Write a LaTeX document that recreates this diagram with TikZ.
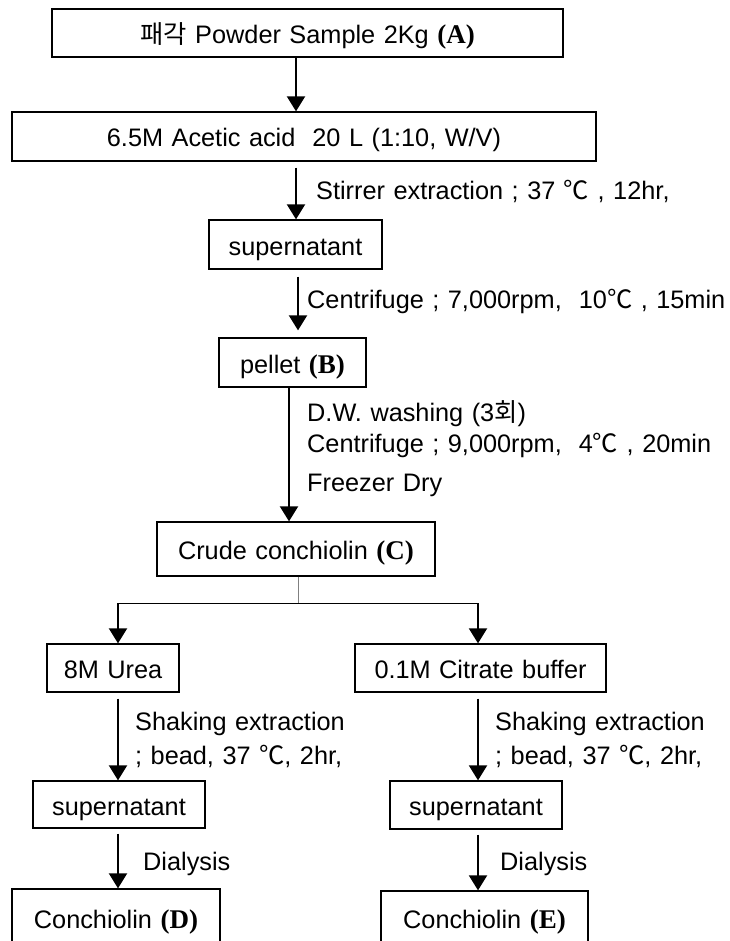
\documentclass[tikz,border=0pt]{standalone}
\usepackage{fontspec}
\setmainfont{Liberation Sans}
\newfontfamily\krfont{Noto Sans CJK KR}
\newfontfamily\serifbold{Liberation Serif}
\usetikzlibrary{arrows.meta}
\newcommand{\sampletag}[1]{{\serifbold\bfseries\fontsize{27}{30}\selectfont (#1)}}
\newcommand{\degc}{{\krfont ℃}}
\newcommand{\flowfont}{\fontsize{25.3}{30}\selectfont\spaceskip=8.5pt plus 1pt minus 1pt\relax}
\begin{document}
\begin{tikzpicture}[x=1pt,y=-1pt,
  txt/.style={font=\flowfont},
  box/.style={txt, draw, line width=1.3pt, rectangle, inner sep=0pt,
    text height=23pt, text depth=2pt},
  note/.style={txt, anchor=west, inner sep=0pt},
  arr/.style={line width=2pt, -{Triangle[width=18pt,length=15pt]}},
  branch/.style={line width=1pt}]
\clip (0,0) rectangle (729,941);
\fill[white] (0,0) rectangle (729,941);

% main column
\node[box, minimum width=511pt, minimum height=48pt] (A) at (307.5,33)
  {{\krfont 패각} Powder Sample 2Kg \sampletag{A}};
\node[box, minimum width=584pt, minimum height=49pt] (acid) at (304,136.5)
  {6.5M Acetic acid\ \ 20 L (1:10, W/V)};
\node[box, minimum width=173pt, minimum height=49pt] (sup) at (295.5,244.5) {supernatant};
\node[box, minimum width=147pt, minimum height=49pt] (pellet) at (292.5,362.5) {pellet \sampletag{B}};
\node[box, minimum width=278pt, minimum height=54pt] (crude) at (296,549) {Crude conchiolin \sampletag{C}};

% two branches
\node[box, minimum width=132pt, minimum height=48pt] (urea) at (113,668) {8M Urea};
\node[box, minimum width=251pt, minimum height=48pt] (citr) at (480.5,668) {0.1M Citrate buffer};
\node[box, minimum width=172pt, minimum height=47pt] (supL) at (119,804.5) {supernatant};
\node[box, minimum width=172pt, minimum height=48pt] (supR) at (476,805) {supernatant};
\node[box, minimum width=208pt, minimum height=57pt] (D) at (116,917.5) {Conchiolin \sampletag{D}};
\node[box, minimum width=207pt, minimum height=53pt] (E) at (484.5,917.5) {Conchiolin \sampletag{E}};

% x positions of the vertical connectors
\coordinate (c1) at (296,0);
\coordinate (c2) at (298,0);
\coordinate (c3) at (289,0);
\coordinate (cL) at (118,0);
\coordinate (cR) at (478,0);
\coordinate (split) at (298,603);

% connectors of the main column
\draw[arr] (A.south -| c1) -- (acid.north -| c1);
\draw[arr] ([yshift=-6pt]acid.south -| c1) -- (sup.north -| c1);
\draw[arr] ([yshift=-7pt]sup.south -| c2) -- ([yshift=7pt]pellet.north -| c2);
\draw[arr] (pellet.south -| c3) -- (crude.north -| c3);

% split into the two extractions
\draw[branch, gray] (crude.south -| split) -- (split);
\draw[branch] (split -| cL) -- (split -| cR);
\draw[arr] (split -| cL) -- (urea.north -| cL);
\draw[arr] (split -| cR) -- (citr.north -| cR);

\draw[arr] ([yshift=-6pt]urea.south -| cL) -- (supL.north -| cL);
\draw[arr] ([yshift=-6pt]citr.south -| cR) -- (supR.north -| cR);
\draw[arr] ([yshift=-5pt]supL.south -| cL) -- (D.north -| cL);
\draw[arr] ([yshift=-5pt]supR.south -| cR) -- (E.north -| cR);

% step conditions
\node[note] (n1) at (316,191) {Stirrer extraction ; 37 \degc\ , 12hr,};
\node[note] (n2) at (307,301) {Centrifuge ; 7,000rpm,\ \ 10\degc\ , 15min};
\node[note] (n3) at (307,414) {D.W. washing (3{\krfont 회})};
\node[note] (n4) at (307,445) {Centrifuge ; 9,000rpm,\ \ 4\degc\ , 20min};
\node[note] (n5) at (307,485) {Freezer Dry};
\node[note] (n6) at (135,724) {Shaking extraction};
\node[note] (n7) at (135,756) {; bead, 37 \degc, 2hr,};
\node[note] (n8) at (495,724) {Shaking extraction};
\node[note] (n9) at (495,756) {; bead, 37 \degc, 2hr,};
\node[note] (n10) at (143,864) {Dialysis};
\node[note] (n11) at (500,864) {Dialysis};
\end{tikzpicture}
\end{document}
